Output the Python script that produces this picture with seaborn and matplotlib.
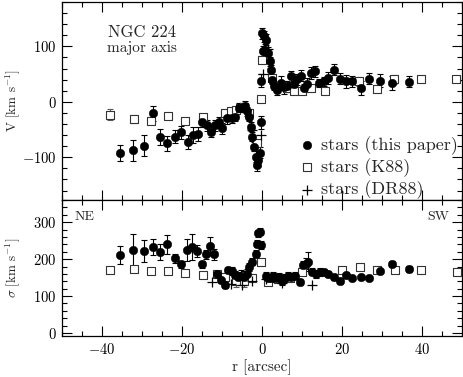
import numpy as np
import pandas as pd
import matplotlib
matplotlib.use("Agg")
import matplotlib.pyplot as plt
import seaborn as sns
from matplotlib.ticker import MultipleLocator

# ---------------- data ----------------
# velocity, this paper
v_r = [-35.5, -32.3, -29.6, -27.3, -25.4, -23.7, -21.8, -20.2, -18.6, -17.3, -16.1,
       -14.9, -13.8, -12.75, -11.75, -10.8, -9.9, -8.7, -7.6, -6.75, -5.75, -4.9,
       -4.25, -3.7, -3.25, -2.8, -2.4, -2.0, -1.6, -1.2, -0.9, -0.6, -0.3, -0.2,
       0.1, 0.5, 0.3, 0.75, 1.1, 1.6, 1.9, 2.2, 2.6, 3.0, 3.8, 4.7, 5.5, 6.3, 7.2,
       8.0, 8.8, 9.7, 10.5, 11.3, 12.2, 13.25, 14.25, 15.5, 16.6, 18.0, 19.5, 20.9,
       22.6, 24.7, 26.75, 29.4, 32.4, 36.75]
v_val = [-92, -87, -79, -21, -63, -75, -63, -55, -72, -60, -58,
         -36, -42, -54, -42, -37, -48, -30, -30, -27, -11, -11,
         -7, -17, -27, -45, -63, -81, -99, -114, -105, -92, -37, 38,
         124, 118, 91, 94, 112, 88, 73, 58, 40, 29, 22, 34, 26, 28, 46,
         33, 41, 47, 25, 33, 52, 55, 34, 37, 43, 58, 42, 37,
         37, 25, 42, 38, 34, 36]
v_err = [15, 19, 19, 13, 14, 13, 12, 12, 13, 14, 12,
         10, 10, 10, 10, 10, 10, 10, 8, 8, 8, 8,
         8, 8, 8, 8, 8, 8, 10, 10, 10, 10, 12, 12,
         10, 10, 10, 10, 10, 10, 8, 8, 8, 8, 10, 12, 12, 10, 10,
         10, 10, 10, 8, 10, 10, 10, 8, 8, 10, 10, 10, 12,
         10, 12, 10, 12, 12, 10]

# velocity, K88
vk_r = [-38, -32, -27.75, -23.5, -19.2, -14.8, -9.3, -7.8, -6.5, -5.5, -4.5, -3.3,
        -1.2, -0.2, 0.1, 2.6, 6.3, 8.0, 10.0, 12.3, 15.7, 24.25, 28.8, 33.0, 39.7, 48.4]
vk_val = [-23, -31, -34, -25, -34, -27, -20, -17, -15, -12, -10, -20,
          -75, 5, 76, 43, 25, 19, 19, 25, 20, 37, 23, 41, 41, 41]
vk_err = [10, 8, 0, 0, 0, 5, 0, 0, 0, 0, 0, 0,
          0, 0, 0, 0, 0, 0, 0, 0, 0, 8, 0, 8, 0, 5]

# velocity, DR88
vd_r = [-4.0, -2.5, -0.3, 0.2, 1.5, 3.5]
vd_val = [-15, -50, -60, 50, 95, 25]

# dispersion, this paper
s_r = [-35.6, -32.25, -29.5, -27.3, -25.5, -23.7, -21.8, -20.2, -18.7, -17.4, -16.2,
       -14.9, -13.9, -12.9, -12.0, -11.2, -10.25, -9.3, -8.5, -7.6, -6.8, -6.0,
       -5.2, -4.4, -3.8, -3.25, -2.4, -1.6, -1.2, -0.9, -0.6, -0.2, 1.0, 1.6,
       2.2, 2.8, 3.5, 4.2, 5.0, 5.8, 6.5, 7.3, 8.2, 9.5, 10.25, 11.0, 11.6, 12.5,
       13.5, 14.5, 15.5, 16.5, 18.0, 19.5, 20.9, 22.6, 24.7, 26.75, 29.4, 32.4, 36.75]
s_val = [211, 224, 222, 233, 220, 240, 202, 186, 224, 233, 222,
         186, 213, 236, 213, 161, 143, 130, 170, 168, 158, 152,
         155, 152, 160, 179, 193, 215, 242, 270, 274, 238, 155, 150,
         148, 155, 150, 152, 140, 150, 155, 152, 155, 137, 184, 188, 193, 166,
         160, 165, 165, 160, 152, 140, 157, 148, 152, 150, 168, 188, 173]
s_err = [24, 45, 30, 22, 22, 25, 12, 10, 30, 35, 15,
         10, 12, 25, 15, 8, 8, 8, 10, 10, 10, 12,
         15, 15, 12, 10, 10, 10, 10, 10, 10, 10, 10, 10,
         10, 10, 10, 10, 10, 10, 10, 10, 10, 8, 10, 15, 25, 10,
         10, 10, 8, 8, 8, 8, 8, 5, 5, 5, 5, 8, 8]

# dispersion, K88
sk_r = [-38, -32, -27.75, -23.5, -19.2, -14.8, -11.3, -9.3, -6.5, -4.5, -2.5, -0.2,
        1.5, 4.0, 7.0, 10.0, 20.0, 24.4, 28.8, 33.2, 39.7, 48.8]
sk_val = [170, 172, 168, 168, 163, 157, 161, 152, 140, 140, 150, 193,
          139, 145, 150, 166, 170, 179, 170, 170, 170, 166]
sk_err = [8, 8, 0, 0, 0, 0, 0, 0, 15, 15, 0, 0,
          0, 0, 0, 0, 0, 8, 8, 8, 0, 5]

# dispersion, DR88
sd_r = [-12.6, -7.8, -4.9, -2.4, 1.0, 5.0, 12.4]
sd_val = [139, 134, 130, 140, 145, 135, 130]

x_ticks = [-40, -20, 0, 20, 40]
v_ticks = [-100, 0, 100]
s_ticks = [0, 100, 200, 300]

lab_this = "stars (this paper)"
lab_k88 = "stars (K88)"
lab_dr88 = "stars (DR88)"

# ---------------- style ----------------
sns.set_style("ticks")
plt.rcParams["font.family"] = ["cmr10", "DejaVu Serif"]
plt.rcParams["mathtext.fontset"] = "cm"
plt.rcParams["axes.formatter.use_mathtext"] = True
plt.rcParams["axes.unicode_minus"] = True

W, H = 463, 377
fig = plt.figure(figsize=(W / 100, H / 100), dpi=100)
ax1 = fig.add_axes([62 / W, 1 - 200 / H, 400 / W, 198 / H])
ax2 = fig.add_axes([62 / W, 1 - 336 / H, 400 / W, 136 / H])

df_v = pd.DataFrame({"r": v_r, "v": v_val, "e": v_err})
df_vk = pd.DataFrame({"r": vk_r, "v": vk_val, "e": vk_err})
df_vd = pd.DataFrame({"r": vd_r, "v": vd_val})
df_s = pd.DataFrame({"r": s_r, "v": s_val, "e": s_err})
df_sk = pd.DataFrame({"r": sk_r, "v": sk_val, "e": sk_err})
df_sd = pd.DataFrame({"r": sd_r, "v": sd_val})


def panel(ax, d_this, d_k, d_d, legend):
    dk = d_k[d_k.e > 0]
    ax.errorbar(dk.r, dk.v, yerr=dk.e, fmt="none", ecolor="0.35", elinewidth=0.8,
                capsize=2, capthick=0.8, zorder=2)
    ax.errorbar(d_this.r, d_this.v, yerr=d_this.e, fmt="none", ecolor="black",
                elinewidth=0.8, capsize=2, capthick=0.8, zorder=3)
    sns.scatterplot(data=d_k, x="r", y="v", ax=ax, marker="s", s=26,
                    facecolor="white", edgecolor="0.2", linewidth=0.8,
                    label=lab_k88 if legend else None, zorder=4)
    sns.scatterplot(data=d_d, x="r", y="v", ax=ax, marker="+", s=55,
                    color="black", linewidth=0.9,
                    label=lab_dr88 if legend else None, zorder=4)
    sns.scatterplot(data=d_this, x="r", y="v", ax=ax, marker="o", s=38,
                    color="black", edgecolor="black", linewidth=0.3,
                    label=lab_this if legend else None, zorder=5)


panel(ax1, df_v, df_vk, df_vd, True)
panel(ax2, df_s, df_sk, df_sd, False)

for ax in (ax1, ax2):
    ax.set_xlim(-50, 50)
    ax.xaxis.set_major_locator(MultipleLocator(20))
    ax.xaxis.set_minor_locator(MultipleLocator(5))
    ax.yaxis.set_minor_locator(MultipleLocator(20))
    ax.tick_params(which="both", direction="in", top=True, right=True,
                   width=0.8, colors="black", labelsize=10.5, pad=4)
    ax.tick_params(which="major", length=7)
    ax.tick_params(which="minor", length=3.5)
    for sp in ax.spines.values():
        sp.set_linewidth(0.9)
        sp.set_color("black")
    ax.set_xlabel("")
    ax.set_ylabel("")

ax1.set_ylim(-177, 180)
ax1.set_yticks(v_ticks)
ax1.set_xticks(x_ticks)
ax1.tick_params(labelbottom=False)
ax2.set_ylim(-8, 360)
ax2.set_yticks(s_ticks)
ax2.set_xticks(x_ticks)

ax1.set_ylabel(r"V [km s$^{-1}$]", fontsize=9.5)
ax2.set_ylabel(r"$\sigma$ [km s$^{-1}$]", fontsize=9.5)
ax1.yaxis.set_label_coords(-0.1, 0.5)
ax2.yaxis.set_label_coords(-0.1, 0.5)
ax2.set_xlabel("r [arcsec]", fontsize=11, labelpad=2)

ax1.text(0.2, 0.848, "NGC 224", transform=ax1.transAxes, ha="center",
         va="center", fontsize=12)
ax1.text(0.2, 0.768, "major axis", transform=ax1.transAxes, ha="center",
         va="center", fontsize=11)
ax2.text(0.032, 0.875, "NE", transform=ax2.transAxes, ha="left", va="center",
         fontsize=10)
ax2.text(0.968, 0.875, "SW", transform=ax2.transAxes, ha="right", va="center",
         fontsize=10)

h, l = ax1.get_legend_handles_labels()
order = [l.index(lab_this), l.index(lab_k88), l.index(lab_dr88)]
ax1.legend([h[i] for i in order], [l[i] for i in order], loc="lower left",
           bbox_to_anchor=(0.5575, -0.06), frameon=False, fontsize=13,
           handletextpad=0.3, handlelength=1.0, labelspacing=0.2,
           borderpad=0.2)

fig.savefig("out.png", dpi=100)
